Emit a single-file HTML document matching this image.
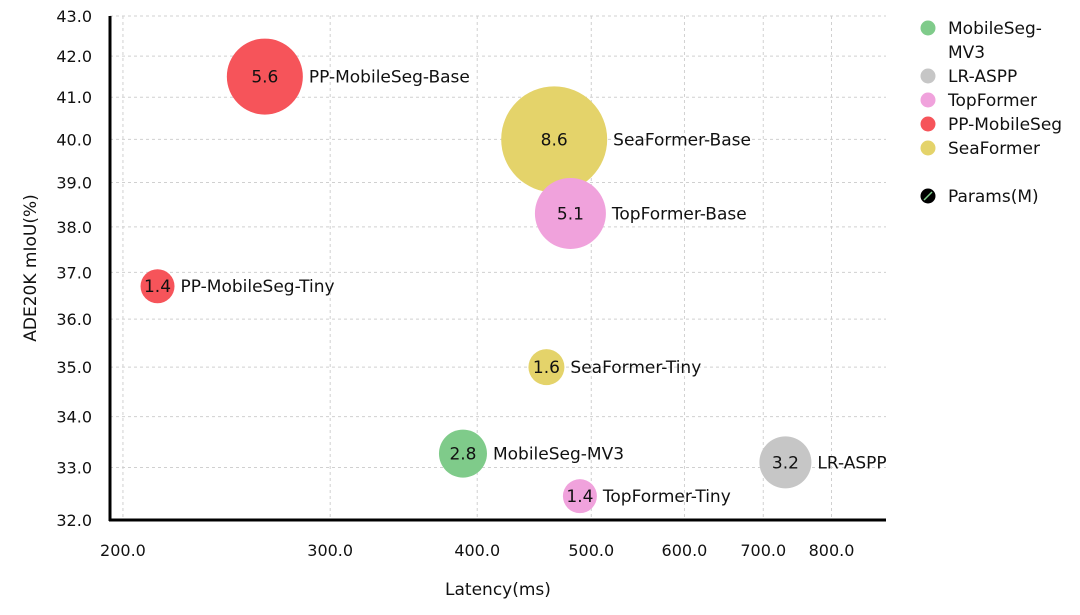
<!DOCTYPE html>
<html><head><meta charset="utf-8"><style>
body{margin:0;background:#fff;}
svg text{font-family:"DejaVu Sans","Liberation Sans",sans-serif;fill:#111;}
</style></head><body>
<svg id="chart" width="1080" height="610" xmlns="http://www.w3.org/2000/svg">
<g id="grid"></g>
<g id="axes"></g>
<g id="marks"></g>
<text x="498" y="595" font-size="17" text-anchor="middle">Latency(ms)</text>
<text transform="translate(36,268) rotate(-90)" font-size="17" text-anchor="middle">ADE20K mIoU(%)</text>
<g id="legend"></g>
</svg>
<script>
const names=["PP-MobileSeg-Base","SeaFormer-Base","TopFormer-Base","PP-MobileSeg-Tiny","SeaFormer-Tiny","MobileSeg-MV3","LR-ASPP","TopFormer-Tiny"];
const latency=[264,465,480,214,458,389,731,489];
const miou=[41.5,40.0,38.3,36.7,35.0,33.27,33.1,32.45];
const params=[5.6,8.6,5.1,1.4,1.6,2.8,3.2,1.4];
const family=["PP-MobileSeg","SeaFormer","TopFormer","PP-MobileSeg","SeaFormer","MobileSeg","LR-ASPP","TopFormer"];
const xTicks=[200,300,400,500,600,700,800];
const yTicks=[32,33,34,35,36,37,38,39,40,41,42,43];
const legendLabels=[["MobileSeg-","MV3"],["LR-ASPP"],["TopFormer"],["PP-MobileSeg"],["SeaFormer"]];
const legendKeys=["MobileSeg","LR-ASPP","TopFormer","PP-MobileSeg","SeaFormer"];

const colors={"MobileSeg":"#7fcb8a","LR-ASPP":"#c6c6c6","TopFormer":"#f0a2dc","PP-MobileSeg":"#f6545a","SeaFormer":"#e4d36a"};
const L=110,R=886,T=16,B=520,xmin=195,xmax=890,ymin=32,ymax=43;
const X=v=>L+(R-L)*Math.log(v/xmin)/Math.log(xmax/xmin);
const Y=v=>B-(B-T)*Math.log(v/ymin)/Math.log(ymax/ymin);
const NS="http://www.w3.org/2000/svg";
function mk(tag,attrs,parent,txt){const e=document.createElementNS(NS,tag);for(const k in attrs)e.setAttribute(k,attrs[k]);if(txt!==undefined)e.textContent=txt;parent.appendChild(e);return e;}
const grid=document.getElementById('grid'),axes=document.getElementById('axes'),marks=document.getElementById('marks'),leg=document.getElementById('legend');
xTicks.forEach(t=>{const x=X(t);
 const g=mk('line',{x1:x,x2:x,y1:T,y2:B,stroke:'#d0d0d0','stroke-dasharray':'3,3'},grid);
 
 const lb=mk('text',{x:x,y:556,'font-size':16,'text-anchor':'middle'},axes,t.toFixed(1));
 });
yTicks.forEach(t=>{const y=Y(t);
 const g=mk('line',{x1:L,x2:R,y1:y,y2:y,stroke:'#d0d0d0','stroke-dasharray':'3,3'},grid);
 
 const lb=mk('text',{x:92,y:y+6,'font-size':16,'text-anchor':'end'},axes,t.toFixed(1));
 });
const ya=mk('line',{x1:L,x2:L,y1:T,y2:B+1,stroke:'#000','stroke-width':3},axes);

const xa=mk('line',{x1:L-1,x2:R,y1:B,y2:B,stroke:'#000','stroke-width':3},axes);

names.forEach((n,i)=>{const cx=X(latency[i]),cy=Y(miou[i]),r=10+5*params[i];
 const c=mk('circle',{cx:cx,cy:cy,r:r,fill:colors[family[i]]},marks);
 
 const v=mk('text',{x:cx,y:cy+6,'font-size':17,'text-anchor':'middle'},marks,params[i].toFixed(1));
 
 const l=mk('text',{x:cx+r+6,y:cy+6,'font-size':17},marks,n);
 });
let ly=28;
legendKeys.forEach((k,i)=>{
 const c=mk('circle',{cx:928,cy:ly,r:7.5,fill:colors[k]},leg);
 
 legendLabels[i].forEach((s,j)=>{const t=mk('text',{x:948,y:ly+6+j*24,'font-size':17},leg,s);
  });
 ly+=24*legendLabels[i].length;});
const pc=mk('circle',{cx:928,cy:196,r:7.5,fill:'#000'},leg);

const pl=mk('line',{x1:924,y1:200,x2:932,y2:192,stroke:'#7fcb8a','stroke-width':1.5},leg);

const pt=mk('text',{x:948,y:202,'font-size':17},leg,'Params(M)');

</script>
</body></html>
